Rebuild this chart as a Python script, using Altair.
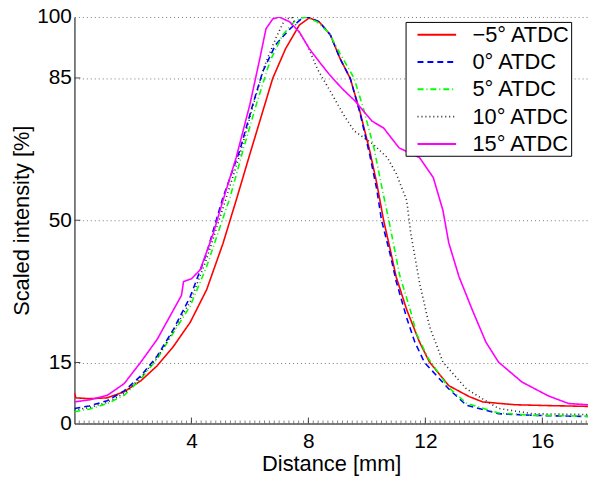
import altair as alt
import pandas as pd

labels = ["−5° ATDC", "0° ATDC", "5° ATDC", "10° ATDC", "15° ATDC"]
colors = ["#ff0000", "#0000ff", "#00ff00", "#222222", "#ff00ff"]
dashes = [[1, 0], [6, 4], [6, 3, 1, 3], [1, 3], [1, 0]]

x_m5 = [0, 0.05, 0.5, 1.12, 1.7, 2.27, 2.83, 3.39, 3.96, 4.52, 5.08, 5.53, 6.0, 6.44, 6.78, 7.22, 7.69,
        8.03, 8.37, 8.75, 9.08, 9.43, 9.76, 10.1, 10.34, 10.57, 10.8, 11.0, 11.36, 11.8, 12.14, 12.8,
        13.5, 13.96, 15.08, 16.2, 17.56]
y_m5 = [7.5, 6.3, 6.1, 6.3, 7.8, 10.5, 14.2, 19.0, 24.9, 32.9, 44.3, 54.9, 66.3, 76.8, 84.9, 92.2, 98.0,
        99.8, 98.8, 95.6, 89.8, 84.9, 76.8, 67.0, 59.0, 50.0, 42.7, 36.1, 28.0, 20.0, 15.1, 9.3,
        6.6, 5.3, 4.6, 4.4, 4.2]

x_0 = [0, 0.5, 1.12, 1.7, 2.27, 2.83, 3.39, 3.96, 4.52, 4.85, 5.08, 5.65, 6.1, 6.44, 6.88, 7.36, 7.8,
       8.0, 8.37, 8.75, 9.08, 9.43, 9.76, 10.1, 10.34, 10.5, 10.8, 11.0, 11.36, 11.64, 11.97, 12.8,
       13.4, 14.5, 15.66, 17.56]
y_0 = [3.7, 4.3, 5.6, 8.0, 11.7, 16.6, 23.2, 31.2, 41.9, 50.0, 55.6, 67.1, 78.5, 86.6, 93.2, 97.0, 99.8,
       100.0, 98.8, 95.6, 89.8, 84.9, 76.5, 66.0, 57.5, 50.0, 41.5, 35.0, 26.0, 20.0, 15.0, 8.5,
       4.5, 2.4, 2.0, 1.7]

x_5 = [0, 0.5, 1.12, 1.7, 2.27, 2.83, 3.39, 3.96, 4.52, 5.08, 5.32, 5.76, 6.22, 6.68, 7.12, 7.56, 7.9,
       8.3, 8.71, 9.08, 9.56, 9.9, 10.25, 10.5, 10.75, 11.12, 11.5, 11.7, 12.1, 12.8, 13.4, 14.5,
       15.66, 17.56]
y_5 = [2.9, 3.5, 4.9, 6.9, 11.0, 15.9, 22.4, 28.9, 38.6, 50.5, 55.6, 67.1, 78.5, 89.0, 95.6, 99.2, 100.0,
       98.8, 96.0, 91.0, 85.0, 77.0, 67.5, 58.5, 50.0, 36.5, 27.5, 22.0, 16.0, 8.8, 5.0, 2.6,
       2.0, 1.8]

x_10 = [0, 0.5, 1.12, 1.7, 2.27, 2.83, 3.39, 3.96, 4.52, 5.08, 5.65, 6.1, 6.5, 6.9, 7.2, 7.45, 7.63,
        7.97, 8.3, 8.75, 9.2, 9.56, 10.2, 10.7, 11.0, 11.36, 11.5, 11.8, 12.14, 12.6, 13.4, 14.5,
        15.66, 17.56]
y_10 = [3.3, 3.9, 5.2, 7.4, 11.3, 16.2, 22.8, 30.0, 40.5, 53.0, 66.0, 78.0, 88.0, 95.0, 99.5, 99.8, 97.0,
        93.0, 87.3, 81.7, 76.0, 72.0, 68.8, 65.4, 61.5, 54.9, 46.8, 34.6, 23.9, 15.1, 8.5, 3.7,
        2.4, 2.2]

x_15 = [0, 0.5, 1.12, 1.7, 2.27, 2.83, 3.39, 3.66, 3.73, 4.0, 4.3, 4.75, 5.08, 5.53, 6.0, 6.34, 6.55,
        6.78, 7.0, 7.36, 7.69, 8.03, 8.37, 8.71, 9.15, 9.6, 10.17, 10.57, 11.1, 11.8, 12.27, 12.6,
        12.8, 13.15, 13.6, 14.07, 14.5, 15.3, 16.2, 16.9, 17.56]
y_15 = [5.3, 5.8, 6.9, 9.8, 15.1, 20.7, 28.0, 31.5, 34.9, 35.6, 37.8, 46.8, 54.9, 65.4, 78.5, 89.8, 97.1,
        99.5, 100.0, 98.8, 96.3, 92.2, 89.0, 85.9, 82.4, 79.3, 74.4, 72.7, 67.8, 65.4, 60.5, 52.4,
        44.4, 36.1, 28.0, 20.0, 15.1, 10.2, 6.8, 4.9, 4.6]

x_ticks_major = [4, 8, 12, 16]
x_ticks_minor = [i / 6 for i in range(1, 106)]
y_tick_values = [0, 15, 50, 85, 100]
y_ticks_inner = [15, 50, 85]

series = [(labels[0], x_m5, y_m5), (labels[1], x_0, y_0), (labels[2], x_5, y_5),
          (labels[3], x_10, y_10), (labels[4], x_15, y_15)]
rows = []
for lab, xs, ys in series:
    for xv, yv in zip(xs, ys):
        rows.append({"series": lab, "x": xv, "y": yv})
df = pd.DataFrame(rows)

W, H = 518, 410
FONT = "Liberation Sans"

xscale = alt.Scale(domain=[0, 17.56], nice=False, zero=False)
yscale = alt.Scale(domain=[0, 100], nice=False)

legend = alt.Legend(
    title=None, orient="none", legendX=334, legendY=5,
    strokeColor="black", fillColor="white", padding=1,
    labelFontSize=22, labelFont=FONT, labelColor="black", labelOffset=24,
    symbolType="M-1.77,0L1.77,0", symbolSize=484, symbolStrokeWidth=2,
    symbolOffset=18.5, rowPadding=4.5, labelLimit=300,
)

lines = alt.Chart(df).mark_line(strokeWidth=1.6, clip=True).encode(
    x=alt.X("x:Q", scale=xscale, axis=alt.Axis(
        values=x_ticks_major, title="Distance [mm]", grid=False, ticks=False,
        labelPadding=7, titlePadding=2)),
    y=alt.Y("y:Q", scale=yscale, axis=alt.Axis(
        values=y_tick_values, title="Scaled intensity [%]", grid=True, ticks=False,
        gridDash=[1, 3], gridColor="#777", gridWidth=1, labelPadding=3, titlePadding=3)),
    color=alt.Color("series:N", scale=alt.Scale(domain=labels, range=colors), legend=legend),
    strokeDash=alt.StrokeDash("series:N", scale=alt.Scale(domain=labels, range=dashes), legend=legend),
    detail="series:N",
)

major = alt.Chart(pd.DataFrame({"x": x_ticks_major})).mark_rule(color="#444", strokeWidth=1).encode(
    x=alt.X("x:Q", scale=xscale), y=alt.value(H), y2=alt.value(H - 6))
minor = alt.Chart(pd.DataFrame({"x": x_ticks_minor})).mark_rule(color="#666", strokeWidth=0.8).encode(
    x=alt.X("x:Q", scale=xscale), y=alt.value(H), y2=alt.value(H - 3))
yt = alt.Chart(pd.DataFrame({"y": y_ticks_inner})).mark_rule(color="#444", strokeWidth=1).encode(
    y=alt.Y("y:Q", scale=yscale), x=alt.value(0), x2=alt.value(6))

chart = alt.layer(lines, minor, major, yt).properties(
    width=W, height=H,
    autosize=alt.AutoSizeParams(type="none"),
    padding={"left": 67, "top": 7, "right": 0, "bottom": 60},
).configure(font=FONT).configure_view(stroke=None).configure_axis(
    labelFont=FONT, titleFont=FONT, labelFontSize=21, titleFontSize=22,
    labelColor="black", titleColor="black", titleFontWeight="normal",
    domainColor="#555", domainWidth=1.5,
)

chart.save("out.html", embed_options={"renderer": "svg", "actions": False})
